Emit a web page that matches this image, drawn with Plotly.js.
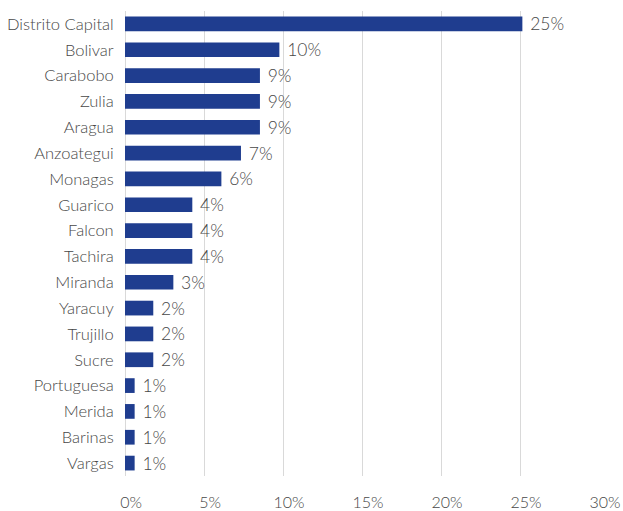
<!DOCTYPE html>
<html>
<head>
<meta charset="utf-8">
<script src="https://cdn.plot.ly/plotly-3.0.1.min.js"></script>
<style>html,body{margin:0;padding:0;background:#fff;}#chart{width:623px;height:511px;}</style>
</head>
<body>
<div id="chart"></div>
<script>
const states = ["Distrito Capital","Bolivar","Carabobo","Zulia","Aragua","Anzoategui","Monagas","Guarico","Falcon","Tachira","Miranda","Yaracuy","Trujillo","Sucre","Portuguesa","Merida","Barinas","Vargas"];
const shares = [0.2515,0.0977,0.0854,0.0854,0.0854,0.0734,0.0610,0.0426,0.0426,0.0426,0.0306,0.0179,0.0179,0.0179,0.0061,0.0061,0.0061,0.0061];
const xTickVals = [0,0.05,0.10,0.15,0.20,0.25,0.30];
const xTickText = ["0%","5%","10%","15%","20%","25%","30%"];

const font = "Lato, 'Open Sans', sans-serif";
const grey = "#474747";

Plotly.newPlot("chart", [{
  type: "bar",
  orientation: "h",
  y: states,
  x: shares,
  marker: {color: "#1f3d8f", line: {width: 0}},
  texttemplate: "\u00a0%{x:.0%}",
  textposition: "outside",
  constraintext: "none",
  cliponaxis: false,
  textfont: {family: font, size: 17.5, color: grey, weight: 300},
  hoverinfo: "none"
}], {
  width: 623, height: 511,
  margin: {l: 125, r: 24, t: 11, b: 35, pad: 0},
  paper_bgcolor: "#fff", plot_bgcolor: "#fff",
  bargap: 0.43,
  showlegend: false,
  font: {family: font, color: grey, size: 17},
  xaxis: {
    range: [0, 0.30],
    tickvals: xTickVals, ticktext: xTickText,
    showgrid: true, gridcolor: "#d9d9d9", gridwidth: 1,
    zeroline: true, zerolinecolor: "#d9d9d9", zerolinewidth: 1,
    showline: false,
    ticks: "outside", ticklen: 12, tickcolor: "rgba(0,0,0,0)",
    ticklabelshift: 6,
    tickfont: {family: font, size: 16, color: grey, weight: 300},
    fixedrange: true
  },
  yaxis: {
    autorange: "reversed",
    showgrid: false, zeroline: false, showline: false,
    ticks: "outside", ticklen: 7, tickcolor: "rgba(0,0,0,0)",
    tickfont: {family: font, size: 16.5, color: grey, weight: 300},
    automargin: false,
    fixedrange: true
  }
}, {staticPlot: true});
</script>
</body>
</html>
